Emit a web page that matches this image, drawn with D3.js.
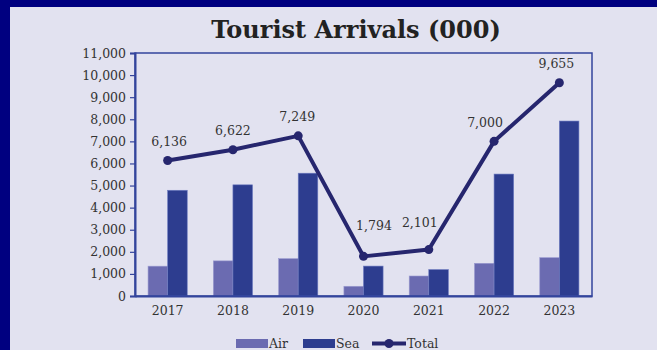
<!DOCTYPE html>
<html>
<head>
<meta charset="utf-8">
<script src="https://cdn.jsdelivr.net/npm/d3@7"></script>
<style>
  html, body { margin: 0; padding: 0; background: #e2e2f0; }
  svg { display: block; }
</style>
</head>
<body>
<svg id="chart" width="657" height="350"></svg>
<script>
// Tourist arrivals in thousands, split by mode of arrival
const years = ["2017", "2018", "2019", "2020", "2021", "2022", "2023"];
const airArrivals = [1350, 1590, 1690, 440, 905, 1480, 1735];
const seaArrivals = [4786, 5032, 5559, 1354, 1196, 5520, 7920];
const totalArrivals = [6136, 6622, 7249, 1794, 2101, 7000, 9655];
const yTicks = [0, 1000, 2000, 3000, 4000, 5000, 6000, 7000, 8000, 9000, 10000, 11000];

// nudges for the total labels so they clear the line
const labelNudge = [[1.5, -14], [0, -14.5], [-1, -15], [10.5, -26], [-9, -22.5], [-9, -14.5], [-3, -15]];

const W = 657, H = 350;
const plot = { left: 135, right: 592, top: 53, bottom: 296 };
const colors = { bg: "#e2e2f0", frame: "#000080", axis: "#33449c", air: "#6b6bb1", sea: "#2d3d8f", total: "#26266e", text: "#333" };
const font = "'DejaVu Serif', serif";

const svg = d3.select("#chart");

svg.append("rect").attr("width", W).attr("height", H).attr("fill", colors.bg);
// navy edge along the top and left
svg.append("rect").attr("x", 0).attr("y", 0).attr("width", W).attr("height", 7).attr("fill", colors.frame);
svg.append("rect").attr("x", 0).attr("y", 0).attr("width", 10).attr("height", H).attr("fill", colors.frame);

svg.append("text")
  .attr("x", 356).attr("y", 38)
  .attr("text-anchor", "middle")
  .attr("font-family", font).attr("font-weight", "bold").attr("font-size", 24)
  .attr("fill", "#222")
  .text("Tourist Arrivals (000)");

const x = d3.scaleBand().domain(years).range([plot.left, plot.right]).paddingInner(0.4).paddingOuter(0.2);
const y = d3.scaleLinear().domain([0, 11000]).range([plot.bottom, plot.top]);

// bars
const half = x.bandwidth() / 2;
const g = svg.append("g");
years.forEach((yr, i) => {
  g.append("rect")
    .attr("x", x(yr)).attr("y", y(airArrivals[i]))
    .attr("width", half).attr("height", y(0) - y(airArrivals[i]))
    .attr("fill", colors.air).attr("stroke", "#9a9ad0").attr("stroke-width", 0.6);
  g.append("rect")
    .attr("x", x(yr) + half).attr("y", y(seaArrivals[i]))
    .attr("width", half).attr("height", y(0) - y(seaArrivals[i]))
    .attr("fill", colors.sea).attr("stroke", "#6d7bc0").attr("stroke-width", 0.6);
});

// frame around the plot area
svg.append("rect")
  .attr("x", plot.left).attr("y", plot.top)
  .attr("width", plot.right - plot.left).attr("height", plot.bottom - plot.top)
  .attr("fill", "none").attr("stroke", colors.axis).attr("stroke-width", 1.5);

// y axis
const yAxis = svg.append("g")
  .attr("transform", `translate(${plot.left},0)`)
  .call(d3.axisLeft(y).tickValues(yTicks).tickFormat(d3.format(",")).tickSizeOuter(0).tickSize(5).tickPadding(4));
yAxis.select(".domain").attr("stroke", colors.axis).attr("stroke-width", 2);
yAxis.selectAll(".tick line").attr("stroke", colors.axis).attr("stroke-width", 1.2);
yAxis.selectAll(".tick text").attr("font-family", font).attr("font-size", 12.5).attr("fill", colors.text);

// x axis
const xAxis = svg.append("g")
  .attr("transform", `translate(0,${plot.bottom})`)
  .call(d3.axisBottom(x).tickSize(0).tickPadding(10));
xAxis.select(".domain").attr("stroke", colors.axis).attr("stroke-width", 2);
xAxis.selectAll(".tick text").attr("font-family", font).attr("font-size", 12.5).attr("fill", colors.text);

// total line with markers and labels
const cx = yr => x(yr) + x.bandwidth() / 2;
const line = d3.line().x((d, i) => cx(years[i])).y(d => y(d));
svg.append("path")
  .datum(totalArrivals)
  .attr("d", line)
  .attr("fill", "none").attr("stroke", colors.total).attr("stroke-width", 4)
  .attr("stroke-linejoin", "round");
svg.selectAll(".pt").data(totalArrivals).join("circle")
  .attr("cx", (d, i) => cx(years[i])).attr("cy", d => y(d)).attr("r", 4.5)
  .attr("fill", colors.total);
svg.selectAll(".lbl").data(totalArrivals).join("text")
  .attr("x", (d, i) => cx(years[i]) + labelNudge[i][0])
  .attr("y", (d, i) => y(d) + labelNudge[i][1])
  .attr("text-anchor", "middle")
  .attr("font-family", font).attr("font-size", 12.5).attr("fill", colors.text)
  .text(d => d3.format(",")(d));

// legend
const lg = svg.append("g").attr("font-family", font).attr("font-size", 12.5).attr("fill", colors.text);
lg.append("rect").attr("x", 236).attr("y", 339).attr("width", 32).attr("height", 9).attr("fill", colors.air);
lg.append("text").attr("x", 269).attr("y", 348).text("Air");
lg.append("rect").attr("x", 303).attr("y", 339).attr("width", 32).attr("height", 9).attr("fill", colors.sea);
lg.append("text").attr("x", 336).attr("y", 348).text("Sea");
lg.append("line").attr("x1", 372).attr("x2", 406).attr("y1", 343.5).attr("y2", 343.5).attr("stroke", colors.total).attr("stroke-width", 4);
lg.append("circle").attr("cx", 389).attr("cy", 343.5).attr("r", 4.5).attr("fill", colors.total);
lg.append("text").attr("x", 407).attr("y", 348).text("Total");
</script>
</body>
</html>
